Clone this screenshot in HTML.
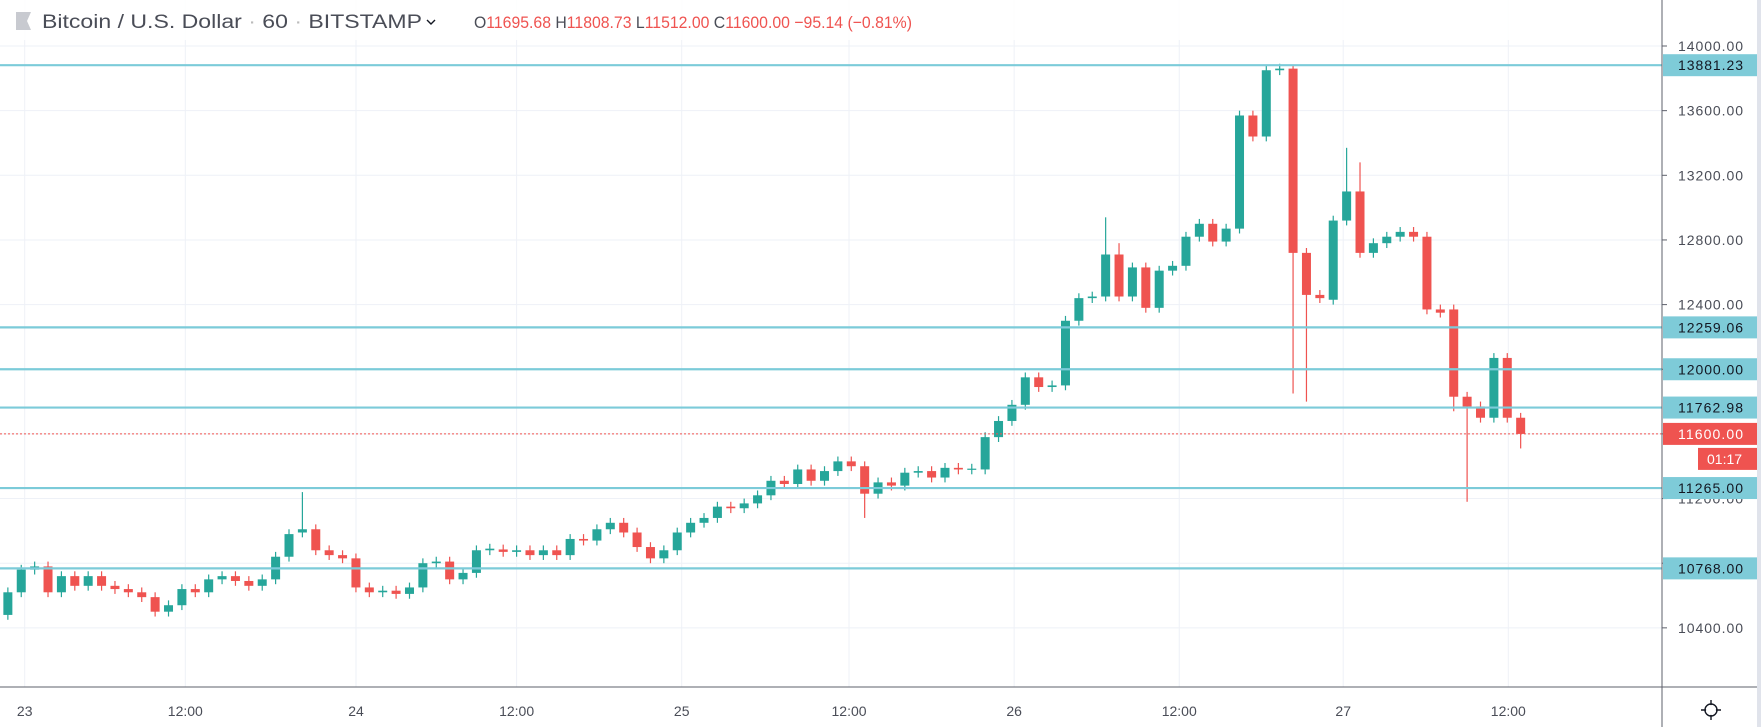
<!DOCTYPE html>
<html><head><meta charset="utf-8"><style>
html,body{margin:0;padding:0;background:#fff;width:1761px;height:727px;overflow:hidden}
svg{display:block;font-family:"Liberation Sans",sans-serif}
</style></head><body>
<svg id="s" width="1761" height="727" xmlns="http://www.w3.org/2000/svg"></svg>
<script>
const S=1761/1568;
const yP=p=>46+(14000-p)/400*64.65;
const s=document.getElementById('s');let h='';
for(let p=10400;p<=14000;p+=400){const y=yP(p);h+=`<line x1="0" x2="1662" y1="${y}" y2="${y}" stroke="#eef1f7" stroke-width="1"/>`;}
const xl=[[22,'23'],[165,'12:00'],[317,'24'],[460,'12:00'],[607,'25'],[756,'12:00'],[903,'26'],[1050,'12:00'],[1196,'27'],[1343,'12:00']];
xl.forEach(([x])=>{h+=`<line x1="${x*S}" x2="${x*S}" y1="0" y2="687" stroke="#eef1f7"/>`});
const C=[[10480,10620],[10620,10760],[10760,10780],[10780,10620],[10620,10720],[10720,10660],[10660,10720],[10720,10660],[10660,10640],[10640,10620],[10620,10590],[10590,10500],[10500,10540],[10540,10640],[10640,10620],[10620,10700],[10700,10720],[10720,10690],[10690,10660],[10660,10700],[10700,10840],[10840,10980],[10990,11010],[11010,10880],[10880,10850],[10850,10830],[10830,10650],[10650,10620],[10620,10630],[10630,10610],[10610,10650],[10650,10800],[10800,10810],[10810,10700],[10700,10740],[10740,10880],[10880,10890],[10885,10870],[10870,10880],[10880,10850],[10850,10880],[10880,10850],[10850,10950],[10950,10940],[10940,11010],[11010,11050],[11050,10990],[10990,10900],[10900,10830],[10830,10880],[10880,10990],[10990,11050],[11050,11080],[11080,11150],[11150,11140],[11140,11170],[11170,11220],[11220,11310],[11310,11290],[11290,11380],[11380,11310],[11310,11370],[11370,11430],[11430,11400],[11400,11230],[11230,11300],[11300,11280],[11280,11360],[11360,11370],[11370,11330],[11330,11390],[11390,11380],[11380,11385],[11380,11580],[11580,11680],[11680,11780],[11780,11950],[11950,11890],[11890,11900],[11900,12300],[12300,12440],[12440,12450],[12450,12710],[12710,12450],[12450,12630],[12630,12380],[12380,12610],[12610,12640],[12640,12820],[12820,12900],[12900,12790],[12790,12870],[12870,13570],[13570,13440],[13440,13850],[13850,13860],[13860,12720],[12720,12460],[12460,12440],[12430,12920],[12920,13100],[13100,12720],[12720,12780],[12780,12820],[12820,12850],[12850,12820],[12820,12370],[12370,12350],[12370,11830],[11830,11770],[11770,11700],[11700,12070],[12070,11700],[11700,11600]];
const WO={22:[11240,null],64:[null,11080],82:[12940,null],96:[13880,11850],97:[null,11800],109:[null,11180],101:[13280,null],100:[13370,null],108:[null,11740],113:[null,11510],83:[12780,null]};
const N=C.length,x0=7*S,x1=1354*S,dx=(x1-x0)/(N-1);
C.forEach(([o,c],i)=>{const x=x0+i*dx;const g=c>=o;const col=g?'#26a69a':'#ef5350';
let hi=Math.max(o,c)+30,lo=Math.min(o,c)-30;if(WO[i]){if(WO[i][0])hi=WO[i][0];if(WO[i][1])lo=WO[i][1];}
h+=`<line x1="${x}" x2="${x}" y1="${yP(hi)}" y2="${yP(lo)}" stroke="${col}" stroke-width="1.2"/>`;
const t=yP(Math.max(o,c)),b=yP(Math.min(o,c));h+=`<rect x="${x-4.5}" y="${t}" width="9" height="${Math.max(1.2,b-t)}" fill="${col}"/>`;});
h+=`<line x1="0" x2="1662" y1="${yP(11600)}" y2="${yP(11600)}" stroke="#ef5350" stroke-width="1" stroke-dasharray="2,2"/>`;
[13881.23,12259.06,12000,11762.98,11265,10768].forEach(p=>{h+=`<line x1="0" x2="1662" y1="${yP(p)}" y2="${yP(p)}" stroke="#7ccbd9" stroke-width="2.2"/>`});
h+=`<rect x="1663" y="0" width="98" height="727" fill="#fff"/><rect x="1757" y="0" width="4" height="727" fill="#e0e3eb"/>`;
h+=`<line x1="1662" x2="1662" y1="0" y2="727" stroke="#5d606b" stroke-width="1"/><line x1="0" x2="1757" y1="687" y2="687" stroke="#5d606b"/>`;
for(let p=10400;p<=14000;p+=400){const y=yP(p);h+=`<line x1="1662" x2="1667" y1="${y}" y2="${y}" stroke="#5d606b"/><text x="1678" y="${y+5}" font-size="14" fill="#4a4d57" textLength="65">${p}.00</text>`;}
[[13881.23,'13881.23'],[12259.06,'12259.06'],[12000,'12000.00'],[11762.98,'11762.98'],[11265,'11265.00'],[10768,'10768.00']].forEach(([p,t])=>{const y=yP(p);h+=`<rect x="1663" y="${y-11}" width="94" height="22" fill="#7ecbd8"/><text x="1678" y="${y+5}" font-size="14" fill="#131722" textLength="65">${t}</text>`});
let y=yP(11600);h+=`<rect x="1663" y="${y-11}" width="94" height="22" fill="#ef5350"/><text x="1678" y="${y+5}" font-size="14" fill="#fff" textLength="65">11600.00</text>`;
h+=`<rect x="1698" y="${y+14}" width="59" height="22" fill="#ef5350"/><text x="1707" y="${y+30}" font-size="14" fill="#fff">01:17</text>`;
xl.forEach(([x,t])=>{h+=`<text x="${x*S}" y="716" font-size="14" fill="#4a4d57" text-anchor="middle">${t}</text>`});
h+=`<circle cx="1711" cy="710" r="6" fill="none" stroke="#131722" stroke-width="1.4"/><line x1="1701" x2="1721" y1="710" y2="710" stroke="#131722" stroke-width="1.4"/><line x1="1711" x2="1711" y1="700" y2="720" stroke="#131722" stroke-width="1.4"/><circle cx="1711" cy="710" r="5" fill="#fff"/>`;
h+=`<rect x="0" y="0" width="1600" height="40" fill="rgba(255,255,255,0.85)"/>`;
h+=`<polygon points="16,12 31,12 27,21 31,30 16,30" fill="#c8cad0"/>`;
h+=`<text x="42" y="28" font-size="19" fill="#4a4d57" textLength="380" lengthAdjust="spacingAndGlyphs">Bitcoin / U.S. Dollar <tspan fill="#bbb">·</tspan> 60 <tspan fill="#bbb">·</tspan> BITSTAMP</text><path d="M427 20 L431 24 L435 20" fill="none" stroke="#131722" stroke-width="1.4"/>`;
h+=`<text x="474" y="28" font-size="17" fill="#4a4d57" textLength="438" lengthAdjust="spacingAndGlyphs">O<tspan fill="#ef5350">11695.68</tspan>  H<tspan fill="#ef5350">11808.73</tspan>  L<tspan fill="#ef5350">11512.00</tspan>  C<tspan fill="#ef5350">11600.00</tspan>  <tspan fill="#ef5350">−95.14 (−0.81%)</tspan></text>`;
s.innerHTML=h;
</script>
</body></html>
